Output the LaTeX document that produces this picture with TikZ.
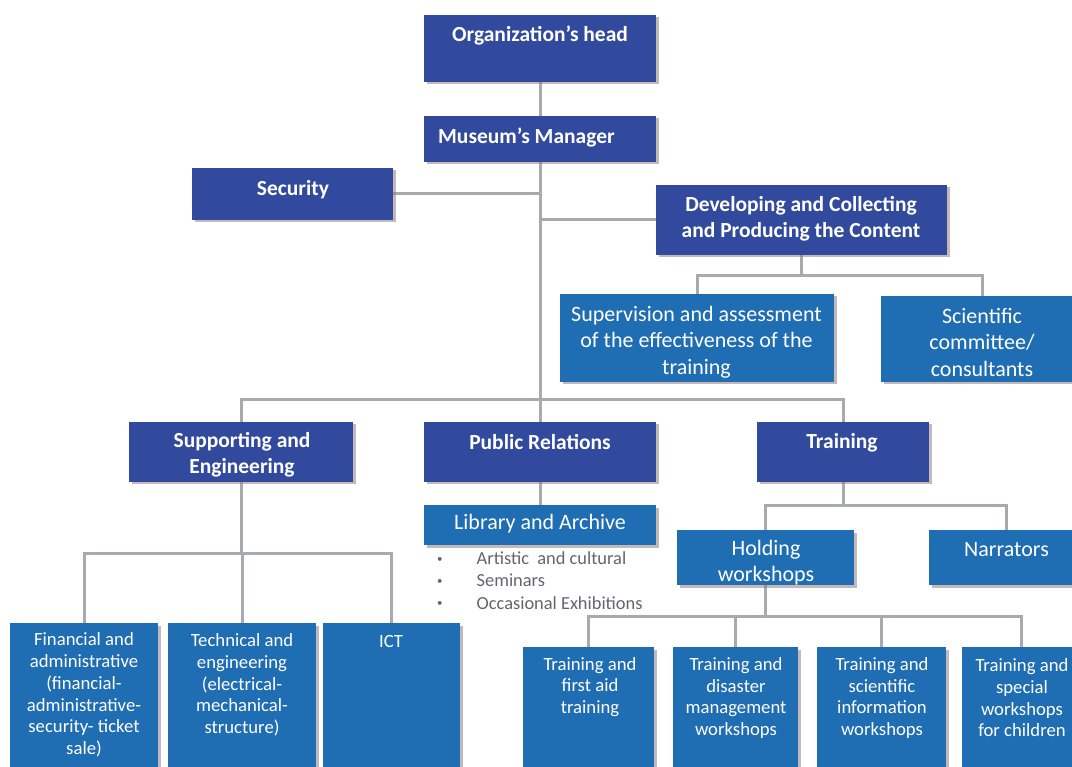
\documentclass[tikz,border=0pt]{standalone}
\usepackage{fontspec}
\setmainfont{Carlito}
\usetikzlibrary{shadows,calc,backgrounds}

\definecolor{orgdark}{RGB}{50,74,158}
\definecolor{orglight}{RGB}{31,109,179}
\definecolor{orgline}{RGB}{168,170,175}
\definecolor{orgshadow}{RGB}{150,125,125}
\definecolor{bulletgray}{RGB}{100,100,112}

\newcommand{\listdot}{\makebox[40.5pt][l]{\hspace*{1pt}\raisebox{2.5pt}{\fontsize{11}{11}\selectfont\textbullet}}}

\tikzset{
  box/.style={draw=none, inner sep=0pt, outer sep=0pt, anchor=north west,
    drop shadow={shadow xshift=2.5pt, shadow yshift=-2.5pt, fill=orgshadow, opacity=0.55}},
  darkbox/.style={box, fill=orgdark},
  lightbox/.style={box, fill=orglight},
  boldtxt/.style={text=white, font=\fontsize{21.5}{25.6}\selectfont\bfseries, align=center, inner sep=0pt},
  regtxt/.style={text=white, font=\fontsize{22}{26.5}\selectfont, align=center, inner sep=0pt},
  smalltxt/.style={text=white, font=\fontsize{18.7}{21.7}\selectfont, align=center, inner sep=0pt},
  listtxt/.style={text=bulletgray, font=\fontsize{18.4}{22.25}\selectfont, align=left, inner sep=0pt},
  conn/.style={draw=orgline, line width=3pt},
}

\begin{document}
\begin{tikzpicture}[x=1pt, y=-1pt]
\useasboundingbox (0,0) rectangle (1072,767);
\clip (0,0) rectangle (1072,767);

% ---- boxes ----
\node[darkbox, minimum width=232pt, minimum height=67pt] (head) at (424,15) {};
\node[darkbox, minimum width=232pt, minimum height=46pt] (mgr) at (424,116) {};
\node[darkbox, minimum width=201pt, minimum height=52pt] (sec) at (192,168) {};
\node[darkbox, minimum width=291pt, minimum height=70pt] (dev) at (656,185) {};
\node[lightbox, minimum width=274pt, minimum height=88pt] (sup) at (560,294) {};
\node[lightbox, minimum width=202pt, minimum height=86pt] (sci) at (881,296) {};
\node[darkbox, minimum width=224pt, minimum height=60pt] (supp) at (129,422) {};
\node[darkbox, minimum width=232pt, minimum height=60pt] (pr) at (424,422) {};
\node[darkbox, minimum width=172pt, minimum height=60pt] (train) at (757,422) {};
\node[lightbox, minimum width=232pt, minimum height=40pt] (lib) at (424,505) {};
\node[lightbox, minimum width=177pt, minimum height=55pt] (hold) at (677,530) {};
\node[lightbox, minimum width=155pt, minimum height=55pt] (narr) at (929,530) {};
\node[lightbox, minimum width=148pt, minimum height=160pt] (fin) at (10,623) {};
\node[lightbox, minimum width=148pt, minimum height=160pt] (tech) at (168,623) {};
\node[lightbox, minimum width=137pt, minimum height=160pt] (ict) at (323,623) {};
\node[lightbox, minimum width=131pt, minimum height=140pt] (tfirst) at (523,647) {};
\node[lightbox, minimum width=125pt, minimum height=140pt] (tdis) at (673,647) {};
\node[lightbox, minimum width=129pt, minimum height=140pt] (tsci) at (817,647) {};
\node[lightbox, minimum width=118pt, minimum height=140pt] (tkids) at (962,647) {};

% ---- connectors (behind the boxes) ----
\begin{pgfonlayer}{background}
\coordinate (trunk) at (mgr.south |- 0,400);
\coordinate (devbus) at ($(dev.south)+(0,21)$);
\coordinate (suppbus) at ($(supp.south)+(0,71)$);
\coordinate (trainbus) at ($(train.south)+(0,23)$);
\coordinate (holdbus) at ($(hold.south)+(0,31)$);

\draw[conn] (head.south) -- (mgr.north);
\draw[conn] (mgr.south) -- (trunk);
\draw[conn] (sec.east) -- (sec.east -| trunk);
\draw[conn] (dev.west) -- (dev.west -| trunk);
\draw[conn] (supp.north) |- (trunk) -| (train.north);
\draw[conn] (trunk) -- (pr.north);

\draw[conn] (dev.south) -- (devbus);
\draw[conn] (sup.north) |- (devbus) -| (sci.north);

\draw[conn] (pr.south) -- (lib.north);

\draw[conn] (supp.south) -- (suppbus);
\draw[conn] (fin.north) |- (suppbus) -| (ict.north);
\draw[conn] (tech.north |- suppbus) -- (tech.north);

\draw[conn] (train.south) -- (trainbus);
\draw[conn] (hold.north) |- (trainbus) -| (narr.north);

\draw[conn] (hold.south) -- (holdbus);
\draw[conn] (tfirst.north) |- (holdbus) -| (tkids.north);
\draw[conn] (tdis.north |- holdbus) -- (tdis.north);
\draw[conn] (tsci.north |- holdbus) -- (tsci.north);
\end{pgfonlayer}

% ---- labels ----
\node[boldtxt] (headtxt) at (540,36) {Organization’s head};
\node[boldtxt, anchor=west] (mgrtxt) at (438,137.5) {Museum’s Manager};
\node[boldtxt] (sectxt) at (293,189.5) {Security};
\node[boldtxt] (devtxt) at (801,219) {Developing and Collecting\\and Producing the Content};
\node[regtxt] (suptxt) at (696.5,342) {Supervision and assessment\\of the effectiveness of the\\training};
\node[regtxt] (scitxt) at (982,342) {Scientific\\committee/\\consultants};
\node[boldtxt] (supptxt) at (242,455) {Supporting and\\Engineering};
\node[boldtxt] (prtxt) at (540,442.5) {Public Relations};
\node[boldtxt] (traintxt) at (842,442.5) {Training};
\node[regtxt] (libtxt) at (540,524) {Library and Archive};
\node[listtxt, anchor=west] (libitems) at (436,580.5)
  {\listdot Artistic\ \ and cultural\\
   \listdot Seminars\\
   \listdot Occasional Exhibitions};
\node[regtxt] (holdtxt) at (766,562.5) {Holding\\workshops};
\node[regtxt] (narrtxt) at (1006.5,549.5) {Narrators};
\node[smalltxt] (fintxt) at (84,695) {Financial and\\administrative\\(financial-\\administrative-\\security- ticket\\sale)};
\node[smalltxt] (techtxt) at (242,685) {Technical and\\engineering\\(electrical-\\mechanical-\\structure)};
\node[smalltxt] (icttxt) at (391,641.5) {ICT};
\node[smalltxt] (tfirsttxt) at (590,687) {Training and\\first aid\\training};
\node[smalltxt] (tdistxt) at (736,698) {Training and\\disaster\\management\\workshops};
\node[smalltxt] (tscitxt) at (882,698) {Training and\\scientific\\information\\workshops};
\node[smalltxt] (tkidstxt) at (1022,698) {Training and\\special\\workshops\\for children};
\end{tikzpicture}
\end{document}
